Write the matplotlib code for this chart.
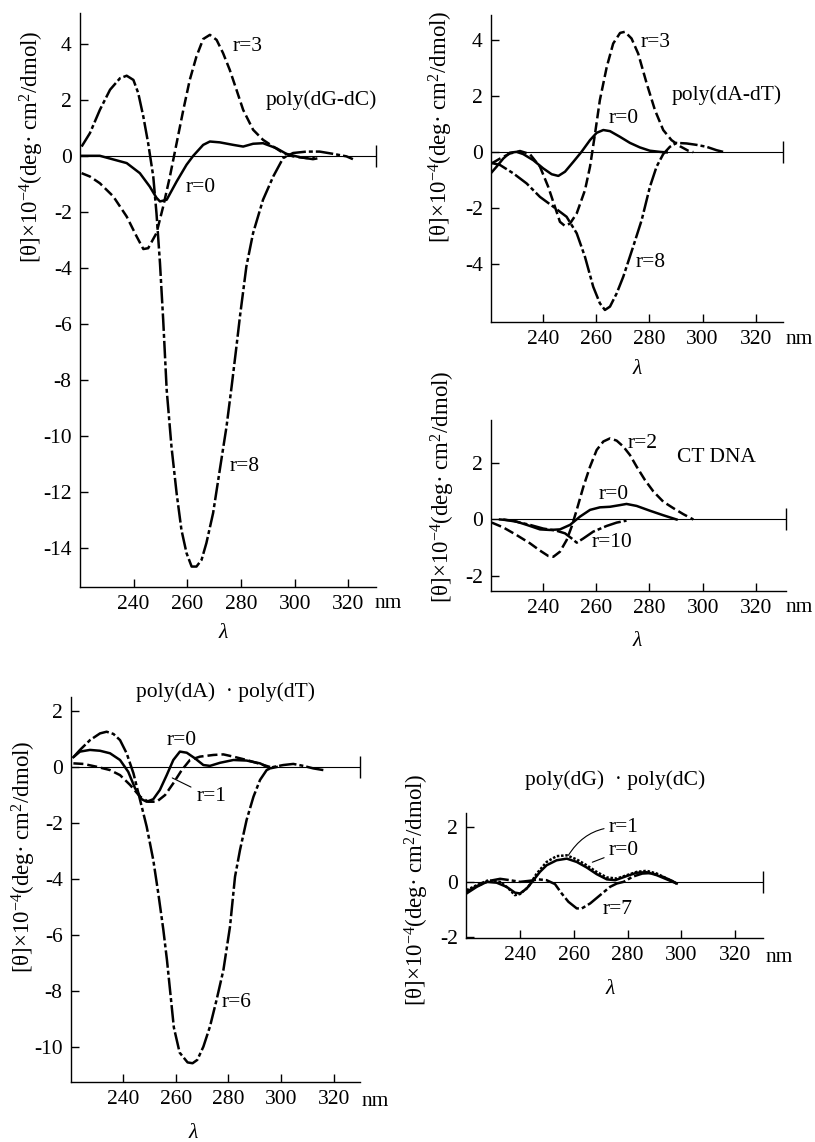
import matplotlib
matplotlib.use("Agg")
import matplotlib.pyplot as plt

plt.rcParams['font.family'] = ['Liberation Serif', 'DejaVu Serif']
plt.rcParams['mathtext.fontset'] = 'custom'
plt.rcParams['mathtext.rm'] = 'Liberation Serif'
plt.rcParams['mathtext.default'] = 'regular'
plt.rcParams['axes.unicode_minus'] = False

W, H = 815, 1142

# ---- poly(dG-dC) ----
gc_r0_x = [220.6, 227.4, 237.4, 242.3, 246, 248.5, 249.8, 252.3, 256, 259.7, 262.2, 265.9, 268.4,
           272.1, 277.1, 280.8, 284.5, 288.2, 293.2, 296.9, 301.9, 306.8, 308]
gc_r0_y = [0, 0, -0.26, -0.62, -1.1, -1.5, -1.63, -1.57, -0.92, -0.32, 0, 0.39, 0.51,
           0.48, 0.39, 0.33, 0.43, 0.45, 0.27, 0.07, -0.05, -0.12, -0.1]
gc_r3_x = [220.6, 223.7, 227.4, 232.4, 237.4, 241.1, 243.6, 245.4, 248.5, 251, 253.5, 256, 258.5,
           260.9, 263.4, 265.9, 268.4, 270.9, 273.3, 275.8, 278.3, 280.8, 284.5, 288.2, 292,
           295.7, 299.4, 304.4, 307.5]
gc_r3_y = [-0.62, -0.74, -0.98, -1.45, -2.17, -2.88, -3.33, -3.3, -2.76, -1.81, -0.74, 0.45, 1.64,
           2.71, 3.55, 4.17, 4.32, 4.14, 3.67, 3.07, 2.36, 1.64, 0.93, 0.57, 0.33,
           0.1, -0.02, -0.08, -0.06]
gc_r8_x = [220.6, 223.7, 227.4, 231.2, 234.9, 237.4, 239.9, 241.7, 243.6, 245.4, 247.3, 248.5,
           249.8, 251, 252.3, 254.1, 256, 257.8, 259.7, 261.6, 263.4, 265.3, 267.1, 269.6,
           272.1, 274.6, 276.5, 278.3, 279.6, 282, 284.5, 288.2, 292, 295.7, 299.4, 304.4,
           309.3, 314.3, 319.3, 321.7]
gc_r8_y = [0.33, 0.81, 1.64, 2.36, 2.77, 2.86, 2.71, 2.24, 1.4, 0.45, -0.74, -2.05,
           -3.83, -5.86, -8.36, -10.4, -12.05, -13.36, -14.19, -14.67, -14.67, -14.43, -13.83, -12.76,
           -11.21, -9.67, -8.24, -6.81, -5.74, -3.95, -2.76, -1.57, -0.74, -0.08, 0.1, 0.15,
           0.15, 0.07, -0.02, -0.12]

# ---- poly(dA-dT) ----
at_r0_x = [220.4, 222.6, 225.1, 227.6, 230.1, 232.6, 236.4, 240.1, 243.3, 245.8, 248.3, 251.4,
           254.5, 257.7, 260.2, 262.7, 265.2, 268.9, 272.7, 276.4, 280.2, 283.9, 286.5]
at_r0_y = [-0.76, -0.52, -0.23, -0.02, 0.01, -0.07, -0.29, -0.58, -0.79, -0.85, -0.7, -0.35,
           0.01, 0.43, 0.69, 0.79, 0.75, 0.55, 0.33, 0.17, 0.05, 0.01, -0.01]
at_r3_x = [220.8, 223.9, 227.6, 231.4, 235.1, 238.9, 242, 244.5, 246.4, 248.3, 250.2, 252.7,
           255.8, 257.7, 259.6, 261.4, 264, 266.4, 269, 270.8, 273.3, 275.8, 279, 282.1,
           285.2, 288.3, 291.5, 294.6, 296.5]
at_r3_y = [-0.4, -0.23, -0.05, 0.04, -0.07, -0.52, -1.24, -1.95, -2.49, -2.64, -2.55, -2.19,
           -1.36, -0.52, 0.67, 1.86, 3.05, 3.88, 4.26, 4.3, 4.06, 3.52, 2.45, 1.5,
           0.79, 0.43, 0.21, 0.05, 0]
at_r8_x = [220.4, 223.9, 228.9, 233.9, 238.9, 243.9, 248.9, 252.7, 255.8, 258.9, 261.4, 263.3,
           265.2, 267.7, 270.2, 273.9, 277.1, 280.2, 282.7, 285.2, 287.7, 290.2, 294, 297.7,
           301.5, 305.2, 307.7]
at_r8_y = [-0.38, -0.46, -0.76, -1.12, -1.6, -1.95, -2.31, -2.9, -3.74, -4.81, -5.4, -5.64,
           -5.52, -5.05, -4.45, -3.38, -2.43, -1.24, -0.52, -0.07, 0.19, 0.33, 0.31, 0.26,
           0.19, 0.07, 0.01]

# ---- CT DNA ----
ct_r0_x = [223.9, 228.9, 233.9, 238.9, 242.6, 246.4, 250.2, 253.9, 257.7, 261.4, 265.2, 269,
           271.4, 275.2, 280.2, 285.2, 290.2]
ct_r0_y = [0, -0.04, -0.19, -0.35, -0.37, -0.35, -0.19, 0.1, 0.34, 0.43, 0.45, 0.51,
           0.55, 0.48, 0.31, 0.15, 0]
ct_r2_x = [220.8, 225.1, 230.1, 235.1, 238.9, 242, 243.9, 246.4, 248.9, 250.8, 252.7, 255.2,
           257.7, 260.2, 262.7, 265.2, 267.7, 270.2, 272.7, 275.2, 278.3, 281.5, 285.2, 289,
           292.7, 296.5]
ct_r2_y = [-0.11, -0.28, -0.55, -0.84, -1.1, -1.29, -1.32, -1.14, -0.73, -0.25, 0.34, 1.16,
           1.87, 2.46, 2.76, 2.87, 2.79, 2.58, 2.28, 1.87, 1.4, 0.99, 0.63, 0.4,
           0.19, 0]
ct_r10_x = [225.1, 230.1, 235.1, 240.1, 245.2, 248.3, 250.8, 252.7, 255.2, 258.9, 263.9, 267.7, 271.4]
ct_r10_y = [0, -0.08, -0.19, -0.32, -0.4, -0.49, -0.67, -0.82, -0.67, -0.43, -0.23, -0.11, -0.04]

# ---- poly(dA)·poly(dT) ----
aa_r0_x = [221.2, 223.7, 227.5, 231.3, 235.1, 238.9, 242, 244.6, 247.1, 249, 251.5, 254,
           256.6, 259.1, 261.6, 264.2, 267.3, 270.5, 273, 276.8, 281.9, 286.9, 292, 295.8, 298.3]
aa_r0_y = [0.35, 0.55, 0.61, 0.58, 0.49, 0.25, -0.17, -0.76, -1.15, -1.24, -1.15, -0.82,
           -0.29, 0.25, 0.55, 0.51, 0.31, 0.07, 0.04, 0.15, 0.25, 0.23, 0.13, -0.05, 0]
aa_r1_x = [221.2, 225, 230, 235.1, 238.9, 242.7, 246.5, 249.6, 252.8, 256, 259.1, 262.3,
           265.4, 269.2, 274.3, 278.1, 281.9, 286.9, 292, 295.8]
aa_r1_y = [0.13, 0.11, 0.01, -0.11, -0.29, -0.64, -1.06, -1.24, -1.24, -1.0, -0.58, -0.11,
           0.25, 0.37, 0.43, 0.45, 0.37, 0.25, 0.11, 0]
aa_r6_x = [221.2, 223.7, 227.5, 231.3, 233.8, 236.4, 238.9, 241.4, 244, 246.5, 249, 251.5,
           253.4, 255.3, 256.7, 258, 259.3, 261.5, 264.5, 266.4, 268.2, 270.5, 273, 275.5,
           278.1, 280.6, 282.5, 284.4, 286.9, 289.5, 292, 294.5, 297, 300.8, 304.6, 308.4,
           312.2, 316]
aa_r6_y = [0.35, 0.61, 0.96, 1.2, 1.26, 1.18, 0.96, 0.49, -0.23, -1.18, -2.13, -3.32,
           -4.51, -5.8, -6.9, -8.1, -9.3, -10.2, -10.55, -10.58, -10.46, -9.99, -9.27, -8.32,
           -7.25, -5.7, -3.92, -2.96, -1.89, -1.06, -0.46, -0.11, 0, 0.07, 0.11, 0.04,
           -0.05, -0.11]

# ---- poly(dG)·poly(dC) ----
gg_r0_x = [220.1, 223.9, 227.6, 231.3, 235, 238.1, 240, 242.5, 245, 247.4, 249.9, 253.6,
           257.4, 261.1, 264.8, 268.5, 272.3, 275.4, 279.7, 283.4, 287.1, 290.9, 294.6, 298.3]
gg_r0_y = [-0.41, -0.17, 0.01, -0.02, -0.17, -0.38, -0.41, -0.23, 0.07, 0.37, 0.61, 0.79,
           0.85, 0.73, 0.53, 0.29, 0.1, 0.07, 0.22, 0.34, 0.36, 0.25, 0.1, -0.05]
gg_r1_x = [220.1, 223.9, 228.2, 232.6, 235.7, 238.1, 240, 243.1, 246.2, 249.9, 253.6, 257.4,
           261.1, 264.8, 268.5, 272.3, 276, 279.7, 283.4, 287.1, 290.9, 294.6, 298.3]
gg_r1_y = [-0.29, -0.11, 0.07, 0.01, -0.23, -0.47, -0.43, -0.17, 0.31, 0.73, 0.94, 0.97,
           0.82, 0.61, 0.37, 0.17, 0.13, 0.25, 0.37, 0.41, 0.31, 0.13, -0.05]
gg_r7_x = [220.1, 223.9, 228.8, 232.6, 236.3, 240, 243.7, 246.8, 249.9, 253, 255.5, 258,
           261.1, 263, 266.1, 269.8, 273.5, 276, 278.5, 282, 285.5, 289, 293, 296.5, 298.3]
gg_r7_y = [-0.35, -0.14, 0.05, 0.12, 0.07, 0.01, 0.05, 0.1, 0.07, -0.07, -0.41, -0.71,
           -0.95, -0.95, -0.77, -0.47, -0.17, -0.05, 0.01, 0.2, 0.31, 0.33, 0.2, 0.05, -0.05]

SOLID = '-'
DASH = (0, (4, 1.6))
DASHDOT = (0, (7, 1.2, 1.6, 1.2))
DOTS = (0, (1, 0.7))
LW = 1.8
FS = 15.5
YFS = 16.5

fig = plt.figure(figsize=(W / 100, H / 100), dpi=100)


def box(l, t, r, b):
    return [l / W, 1 - b / H, (r - l) / W, (b - t) / H]


def ftext(x, y, s, size=FS, **kw):
    fig.text(x / W, 1 - y / H, s, ha='center', va='center', fontsize=size, **kw)


def setup(ax, xlim, ylim, yticks):
    ax.set_xlim(xlim)
    ax.set_ylim(ylim)
    for s in ['top', 'right']:
        ax.spines[s].set_visible(False)
    for s in ['left', 'bottom']:
        ax.spines[s].set_linewidth(1.0)
    ax.set_xticks([240, 260, 280, 300, 320])
    ax.set_yticks(yticks)
    ax.tick_params(direction='in', length=6, width=1, labelsize=FS, pad=6)
    ax.axhline(0, color='black', lw=0.8)
    ax.plot(xlim[1], 0, marker='|', ms=16, mew=1, color='black', clip_on=False)


YLAB = '[θ]×10$^{-4}$(deg· cm$^{2}$/dmol)'

# panel 1
ax1 = fig.add_axes(box(80, 13, 376, 587))
setup(ax1, (220, 330.3), (-15.4, 5.1), range(-14, 5, 2))
ax1.plot(gc_r0_x, gc_r0_y, color='black', lw=LW, ls=SOLID)
ax1.plot(gc_r3_x, gc_r3_y, color='black', lw=LW, ls=DASH)
ax1.plot(gc_r8_x, gc_r8_y, color='black', lw=LW, ls=DASHDOT)
ax1.text(277, 3.9, 'r=3', fontsize=FS, va='center')
ax1.text(289, 2.0, 'poly(dG-dC)', fontsize=FS, va='center')
ax1.text(259.4, -1.14, 'r=0', fontsize=FS, va='center')
ax1.text(275.8, -11.1, 'r=8', fontsize=FS, va='center')
ftext(32, 147, YLAB, size=YFS, rotation=90)
ftext(388, 603, 'nm')
ftext(223, 633, 'λ', style='italic')

# panel 2
ax2 = fig.add_axes(box(491, 15, 783, 322))
setup(ax2, (220.5, 330.2), (-6.07, 4.9), [-4, -2, 0, 2, 4])
ax2.plot(at_r0_x, at_r0_y, color='black', lw=LW, ls=SOLID)
ax2.plot(at_r3_x, at_r3_y, color='black', lw=LW, ls=DASH)
ax2.plot(at_r8_x, at_r8_y, color='black', lw=LW, ls=DASHDOT)
ax2.text(276.7, 3.9, 'r=3', fontsize=FS, va='center')
ax2.text(288.4, 2.04, 'poly(dA-dT)', fontsize=FS, va='center')
ax2.text(264.7, 1.21, 'r=0', fontsize=FS, va='center')
ax2.text(274.8, -3.93, 'r=8', fontsize=FS, va='center')
ftext(441, 127, YLAB, size=YFS, rotation=90)
ftext(799, 340, 'nm')
ftext(637, 370, 'λ', style='italic')

# panel 3
ax3 = fig.add_axes(box(491, 420, 786, 591))
setup(ax3, (220.5, 331.3), (-2.53, 3.52), [-2, 0, 2])
ax3.plot(ct_r0_x, ct_r0_y, color='black', lw=LW, ls=SOLID)
ax3.plot(ct_r2_x, ct_r2_y, color='black', lw=LW, ls=DASH)
ax3.plot(ct_r10_x, ct_r10_y, color='black', lw=LW, ls=DASHDOT)
ax3.text(272, 2.7, 'r=2', fontsize=FS, va='center')
ax3.text(290.2, 2.2, 'CT DNA', fontsize=FS, va='center')
ax3.text(261, 0.87, 'r=0', fontsize=FS, va='center')
ax3.text(258.3, -0.8, 'r=10', fontsize=FS, va='center')
ftext(443, 487, YLAB, size=YFS, rotation=90)
ftext(799, 607, 'nm')
ftext(637, 642, 'λ', style='italic')

# panel 4
ax4 = fig.add_axes(box(71, 697, 360, 1082))
setup(ax4, (220.3, 329.9), (-11.25, 2.5), range(-10, 3, 2))
ax4.plot(aa_r0_x, aa_r0_y, color='black', lw=LW, ls=SOLID)
ax4.plot(aa_r1_x, aa_r1_y, color='black', lw=LW, ls=DASH)
ax4.plot(aa_r6_x, aa_r6_y, color='black', lw=LW, ls=DASHDOT)
ax4.text(256.4, 0.96, 'r=0', fontsize=FS, va='center')
ax4.annotate('r=1', xy=(258.7, -0.39), xytext=(267.8, -1.07), fontsize=FS, va='center',
             arrowprops=dict(arrowstyle='-', lw=0.8, color='black', shrinkA=2, shrinkB=0))
ax4.text(277.3, -8.4, 'r=6', fontsize=FS, va='center')
ftext(225, 692, 'poly(dA)  · poly(dT)')
ftext(24, 857, YLAB, size=YFS, rotation=90)
ftext(375, 1102, 'nm')
ftext(193, 1134, 'λ', style='italic')

# panel 5
ax5 = fig.add_axes(box(466, 813, 763, 938))
setup(ax5, (219.9, 330.4), (-2.02, 2.5), [-2, 0, 2])
ax5.plot(gg_r0_x, gg_r0_y, color='black', lw=LW, ls=SOLID)
ax5.plot(gg_r1_x, gg_r1_y, color='black', lw=LW, ls=DOTS)
ax5.plot(gg_r7_x, gg_r7_y, color='black', lw=LW, ls=DASHDOT)
ax5.annotate('r=1', xy=(258, 0.97), xytext=(272.8, 1.98), fontsize=FS, va='center',
             arrowprops=dict(arrowstyle='-', lw=0.8, color='black', shrinkA=1, shrinkB=0,
                             connectionstyle='arc3,rad=0.3'))
ax5.annotate('r=0', xy=(266.9, 0.72), xytext=(272.8, 1.15), fontsize=FS, va='center',
             arrowprops=dict(arrowstyle='-', lw=0.8, color='black', shrinkA=1, shrinkB=0))
ax5.text(270.6, -1.0, 'r=7', fontsize=FS, va='center')
ftext(615, 780, 'poly(dG)  · poly(dC)')
ftext(417, 890, YLAB, size=YFS, rotation=90)
ftext(779, 957, 'nm')
ftext(610, 990, 'λ', style='italic')

fig.savefig('out.png', dpi=100)
